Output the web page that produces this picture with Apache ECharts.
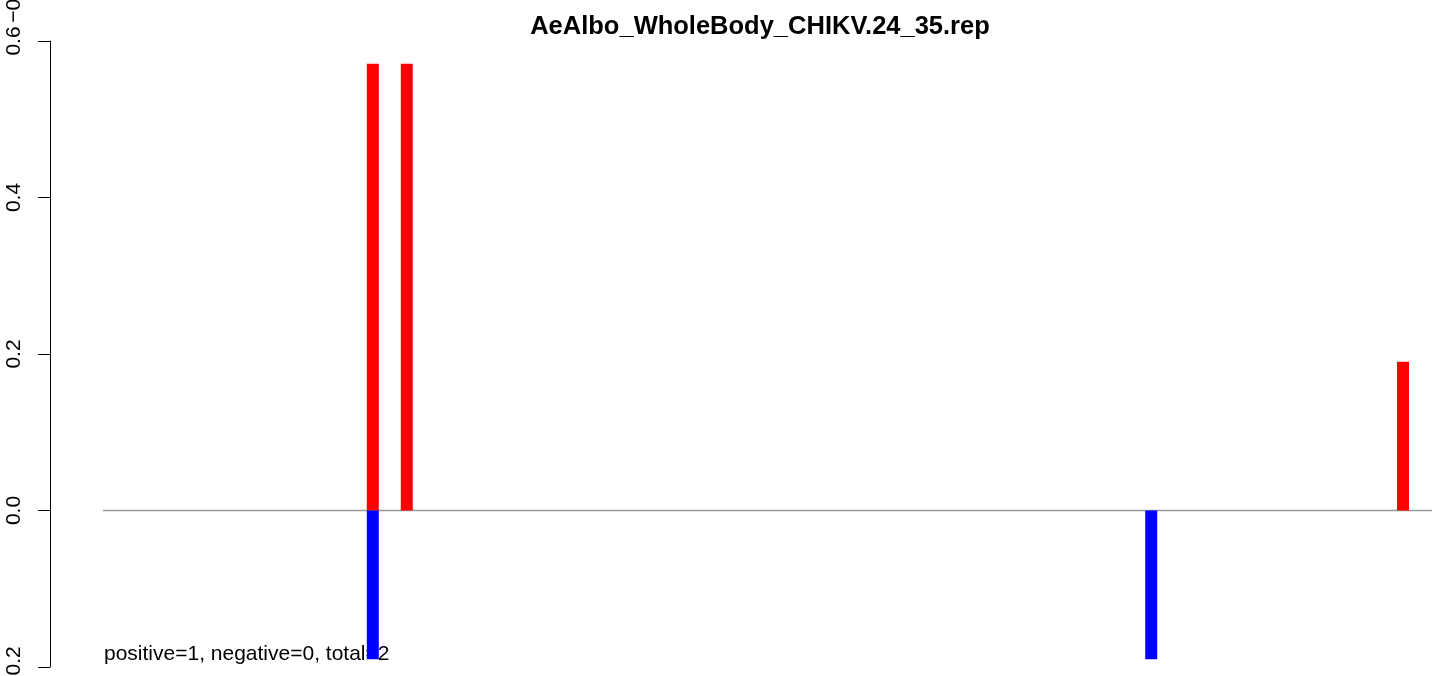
<!DOCTYPE html>
<html>
<head>
<meta charset="utf-8">
<script src="https://cdn.jsdelivr.net/npm/echarts@6/dist/echarts.min.js"></script>
<style>html,body{margin:0;padding:0;background:#fff;}#chart{width:1444px;height:676px;}</style>
</head>
<body>
<div id="chart"></div>
<script>
// Data (positions along the sequence, scores)
const titleText = "AeAlbo_WholeBody_CHIKV.24_35.rep";
const summaryText = "positive=1, negative=0, total=2";
const xRange = [0, 1330];
const positivePos = [270, 304, 1301];
const positiveVals = [0.571, 0.571, 0.19];
const negativePos = [270, 1049];
const negativeVals = [-0.19, -0.19];
const yTicks = [-0.2, 0, 0.2, 0.4, 0.6];
const upperPanelLabel = "\u22120.2";

const FONT = "'Liberation Sans', Arial, sans-serif";
const chart = echarts.init(document.getElementById('chart'), null, {renderer: 'canvas'});

const fmt = v => (v < 0 ? '\u2212' : '') + Math.abs(v).toFixed(1);

chart.setOption({
  animation: false,
  backgroundColor: '#ffffff',
  grid: {left: 103, right: 12, top: 41, bottom: 9, containLabel: false, outerBoundsMode: 'none'},
  xAxis: {
    type: 'value', min: xRange[0], max: xRange[1], show: false
  },
  yAxis: {
    type: 'value', min: yTicks[0], max: yTicks[yTicks.length - 1], interval: 0.2,
    offset: 53,
    axisLine: {show: true, onZero: false, lineStyle: {color: '#000', width: 1}},
    axisTick: {show: true, length: 12, lineStyle: {color: '#000', width: 1}},
    splitLine: {show: false},
    axisLabel: {
      rotate: 90, margin: 25, color: '#000', fontSize: 21, fontFamily: FONT,
      align: 'center', verticalAlign: 'bottom',
      formatter: fmt
    }
  },
  graphic: [
    {type: 'text', z: 10, x: 760, y: 27, style: {text: titleText,
      font: "bold 25.5px " + FONT, fill: '#000', textAlign: 'center', textVerticalAlign: 'middle'}},
    {type: 'text', z: 0, x: 104, y: 654, style: {text: summaryText, font: "21px " + FONT, fill: '#000',
      textAlign: 'left', textVerticalAlign: 'middle'}},
    {type: 'text', z: 0, x: 14.5, y: 2, rotation: Math.PI / 2, style: {text: upperPanelLabel, font: "21px " + FONT, fill: '#000',
      textAlign: 'center', textVerticalAlign: 'middle'}}
  ],
  series: [
    {
      type: 'line', data: [[xRange[0], 0], [xRange[1], 0]], symbol: 'none', silent: true,
      lineStyle: {color: '#999999', width: 1.5}, z: 1
    },
    {
      type: 'bar', name: 'positive', barWidth: 12, barGap: '-100%',
      data: positivePos.map((p, i) => [p, positiveVals[i]]),
      itemStyle: {color: '#ff0000'}, z: 3
    },
    {
      type: 'bar', name: 'negative', barWidth: 12, barGap: '-100%',
      data: negativePos.map((p, i) => [p, negativeVals[i]]),
      itemStyle: {color: '#0000ff'}, z: 3
    }
  ]
});
</script>
</body>
</html>
